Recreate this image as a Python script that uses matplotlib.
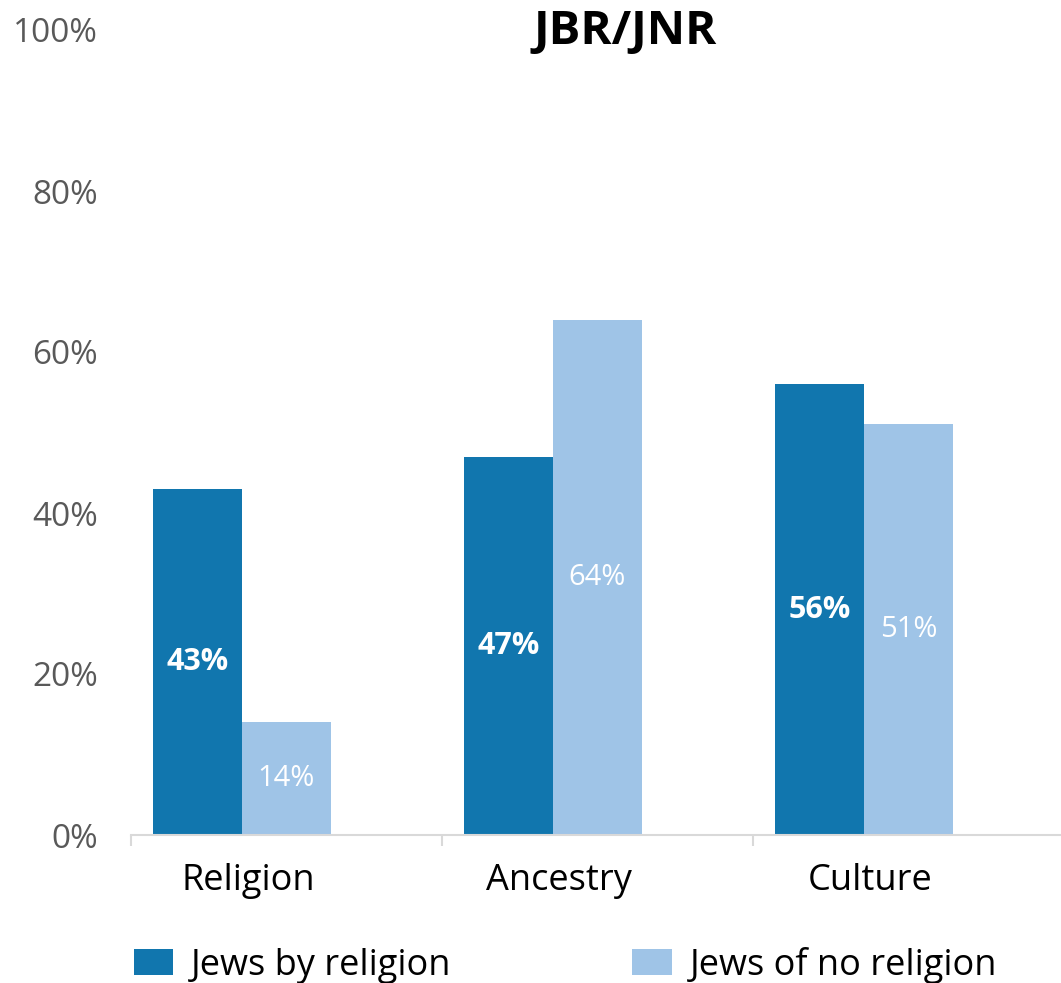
import matplotlib.pyplot as plt
import numpy as np

plt.rcParams['font.family'] = ['Open Sans', 'DejaVu Sans']

categories = ["Religion", "Ancestry", "Culture"]
jbr = [43, 47, 56]
jnr = [14, 64, 51]
series_names = ["Jews by religion", "Jews of no religion"]

dark = "#1176AE"
light = "#9FC4E7"

fig = plt.figure(figsize=(10.61, 9.83), dpi=100)
W, H = 1061, 983
# axes in pixel coordinates: left 131, right 1064, top 30, bottom 835
ax = fig.add_axes([131 / W, (H - 835) / H, (1064 - 131) / W, (835 - 30) / H])

x = np.arange(len(categories))
bw = 0.286
# bars sit left of the slot centre (layout made for three series)
b1 = ax.bar(x - bw, jbr, bw, color=dark, label=series_names[0], zorder=2)
b2 = ax.bar(x, jnr, bw, color=light, label=series_names[1], zorder=2)

for rect, v in zip(b1, jbr):
    ax.text(rect.get_x() + rect.get_width() / 2, v / 2, f"{v}%", ha="center", va="center",
            color="white", fontsize=22, fontweight="bold")
for rect, v in zip(b2, jnr):
    ax.text(rect.get_x() + rect.get_width() / 2, v / 2, f"{v}%", ha="center", va="center",
            color="white", fontsize=21)

ax.set_xlim(-0.5, 2.5)
ax.set_ylim(0, 100)
ax.set_yticks(range(0, 101, 20))
ax.set_yticklabels([f"{t}%" for t in range(0, 101, 20)], color="#595959", fontsize=24)
ax.tick_params(axis="y", length=0, pad=24)

ax.set_xticks([-0.5, 0.5, 1.5, 2.5])
ax.set_xticklabels([])
ax.tick_params(axis="x", length=8, color="#D9D9D9", width=1.5)
ax.set_xticks(x - bw / 2 + 0.02, minor=True)
ax.set_xticklabels(categories, minor=True, fontsize=26)
ax.tick_params(axis="x", which="minor", length=0, pad=20)

for s in ["top", "right", "left"]:
    ax.spines[s].set_visible(False)
ax.spines["bottom"].set_color("#D9D9D9")
ax.spines["bottom"].set_linewidth(1.5)

fig.text(625 / W, 1 - 32 / H, "JBR/JNR", ha="center", va="center", fontsize=34, fontweight="bold")

fig.legend(handles=[b1, b2], labels=series_names, loc="center left",
           bbox_to_anchor=(101 / W, 1 - 965 / H), ncol=2, frameon=False, fontsize=26,
           handlelength=1.1, handleheight=0.7, handletextpad=0.5, columnspacing=5.0)

fig.savefig("out.png", dpi=100)
